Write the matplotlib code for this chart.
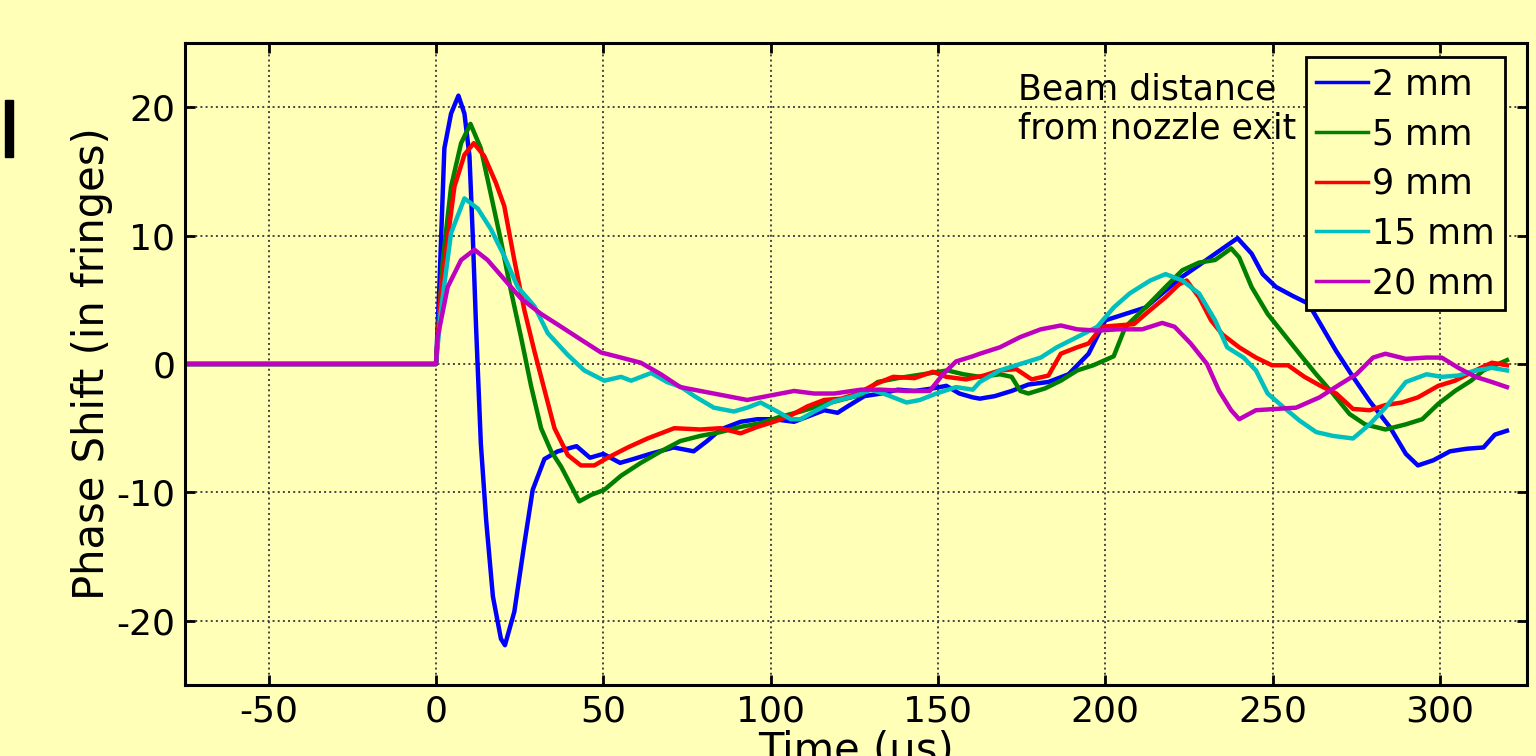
import matplotlib
matplotlib.use("Agg")
import matplotlib.pyplot as plt
from matplotlib.patches import Rectangle

plt.rcParams['font.family'] = ['DejaVu Sans']
plt.rcParams['axes.unicode_minus'] = False

t_2mm = [-75, 0, 1, 2.5, 4.5, 6.7, 8.5, 10, 11, 12, 13.4, 15, 17, 19.4, 20.6, 23.4, 26.4, 28.9, 32.4, 36.4,
         42, 46, 50, 55, 59, 64, 71, 77, 81, 85, 91, 96, 101, 107, 111, 116, 120, 123, 128, 133,
         138, 143, 148.5, 152.5, 156.4, 160.4, 162.5, 167, 172, 177, 183, 189, 195, 200, 206, 212, 217, 223, 228, 234,
         239.5, 243.7, 247, 251, 256, 260.7, 264.3, 269, 274, 279, 285, 289.8, 293.4, 298, 303, 308, 313, 316.4, 320]
ps_2mm = [0, 0, 6, 16.8, 19.5, 20.9, 19.5, 16.2, 9.9, 2.7, -6.2, -12.2, -18.1, -21.4, -21.9, -19.3, -14, -9.8, -7.4, -6.8,
          -6.4, -7.3, -7.0, -7.7, -7.4, -7.0, -6.5, -6.8, -6.0, -5.1, -4.5, -4.3, -4.3, -4.5, -4.1, -3.6, -3.8, -3.3, -2.5, -2.3,
          -2.0, -2.1, -1.9, -1.7, -2.3, -2.6, -2.7, -2.5, -2.1, -1.6, -1.4, -0.8, 0.8, 3.4, 3.9, 4.4, 5.5, 6.8, 7.7, 8.8,
          9.8, 8.6, 7.0, 6.0, 5.3, 4.7, 3.1, 1.0, -1.0, -2.9, -4.9, -7.0, -7.9, -7.5, -6.8, -6.6, -6.5, -5.5, -5.2]

t_5mm = [-75, 0, 2, 4.5, 7.5, 10.3, 13.4, 16.4, 19.4, 22.4, 25.4, 28.4, 31.4, 34.4, 37.4, 40.4, 42.8, 46.3, 50.3, 55.3,
         61.2, 67.2, 73, 79, 85, 91, 97, 103, 109, 115, 121, 127, 132, 138, 145.5, 152.8, 157.6, 162.5, 168.5, 172,
         174.6, 177, 182, 186.7, 191.6, 196.4, 202.5, 206, 212, 218, 223, 228, 232.8, 237.6, 240, 243.7, 248.5, 253.4, 258, 263,
         268, 273, 277.6, 283.7, 289.8, 294.7, 299.5, 304.5, 309.3, 313, 320]
ps_5mm = [0, 0, 8, 13.8, 17.2, 18.7, 16.8, 13.2, 9.6, 5.7, 2.1, -1.7, -5.0, -6.8, -8.0, -9.5, -10.7, -10.2, -9.8, -8.7,
          -7.7, -6.8, -6.0, -5.6, -5.3, -4.9, -4.6, -4.1, -3.7, -3.2, -2.8, -2.4, -1.4, -1.1, -0.8, -0.5, -0.8, -1.0, -0.8, -1.0,
          -2.1, -2.3, -1.9, -1.3, -0.5, -0.1, 0.6, 2.9, 4.4, 6.0, 7.3, 7.9, 8.1, 9.0, 8.3, 6.0, 3.9, 2.3, 0.8, -0.8,
          -2.3, -3.9, -4.7, -5.1, -4.7, -4.3, -3.1, -2.1, -1.3, -0.5, 0.3]

t_9mm = [-75, 0, 1.5, 5.5, 8.5, 11.3, 14.4, 17.9, 20.4, 23.4, 26.4, 29.4, 32.4, 35.4, 39.4, 43.3, 47.3, 51.3, 57.3, 63.2,
         71.2, 79, 85, 91, 96, 101, 106, 111, 116, 121, 126, 131, 136.6, 143, 148.5, 152.5, 158.4, 163.7, 168.5, 173.4,
         178, 183, 186.7, 191.6, 195, 199, 203.7, 208.5, 213.4, 218, 222, 224.3, 228, 231.6, 235, 240, 245, 249.8, 254.6, 259.5,
         264.3, 269, 274, 279, 283.7, 288.6, 293.4, 299.5, 304.5, 310.6, 315.5, 320]
ps_9mm = [0, 0, 5.7, 13.8, 16.3, 17.2, 16.2, 14.1, 12.3, 8.1, 4.2, 1.0, -2.0, -5.0, -7.1, -7.9, -7.9, -7.3, -6.5, -5.8,
          -5.0, -5.1, -5.0, -5.4, -4.9, -4.5, -4.0, -3.3, -2.8, -2.7, -2.3, -1.6, -1.0, -1.1, -0.6, -1.0, -1.2, -0.9, -0.5, -0.4,
          -1.2, -0.9, 0.8, 1.3, 1.6, 2.9, 3.0, 3.1, 4.2, 5.2, 6.2, 6.5, 5.2, 3.4, 2.3, 1.3, 0.5, -0.1, -0.1, -1.0,
          -1.7, -2.3, -3.5, -3.6, -3.2, -3.0, -2.6, -1.7, -1.3, -0.5, 0.1, -0.1]

t_15mm = [-75, 0, 1.5, 4.5, 8.5, 12.5, 16.4, 20.4, 24.4, 29.4, 33.4, 39.4, 44.3, 50.3, 55.3, 58.3, 64.3, 69, 73.3, 77.2,
          83, 89, 93, 97, 102, 106, 109, 113, 119, 125, 130, 134.7, 140.6, 144.6, 149.5, 155.4, 160.4, 162.5, 168.5, 174.6,
          180.7, 185.5, 191.6, 197.6, 202.5, 207.3, 213.4, 218, 223, 228, 232.8, 236.4, 241.3, 245, 248.5, 253.4, 258, 263, 268, 274,
          279, 283.7, 289.8, 296, 300.5, 305.5, 310.6, 315.5, 320]
ps_15mm = [0, 0, 4.2, 10.2, 12.9, 12.1, 10.5, 8.4, 6.0, 4.5, 2.4, 0.7, -0.5, -1.3, -1.0, -1.3, -0.7, -1.4, -1.8, -2.5,
           -3.4, -3.7, -3.4, -3.0, -3.7, -4.3, -4.3, -3.7, -2.9, -2.5, -2.0, -2.4, -3.0, -2.8, -2.3, -1.8, -2.0, -1.4, -0.5, 0.0,
           0.5, 1.3, 2.1, 2.9, 4.4, 5.5, 6.5, 7.0, 6.5, 5.5, 3.4, 1.3, 0.5, -0.5, -2.3, -3.4, -4.4, -5.3, -5.6, -5.8,
           -4.7, -3.4, -1.4, -0.8, -1.0, -0.9, -0.5, -0.3, -0.5]

t_20mm = [-75, 0, 0.5, 3.5, 7.5, 11.5, 15.4, 20.4, 25.4, 31.4, 37.4, 43.3, 49.3, 55.3, 61.2, 67.2, 73, 79, 85, 93,
          99, 107, 113, 119, 127, 133, 140.6, 147.5, 151.5, 155.4, 160.4, 162.5, 168.5, 174.6, 180.7, 186.7, 191.6, 197.6, 203.7, 211,
          217, 220.7, 225.5, 230.4, 234, 237.6, 240, 245, 251, 257, 264, 270, 275, 280, 283.7, 289.8, 296, 300.5, 305.5, 310.6,
          315.5, 320]
ps_20mm = [0, 0, 2.1, 6.0, 8.1, 8.9, 8.1, 6.6, 5.1, 3.9, 2.9, 1.9, 0.9, 0.5, 0.1, -0.8, -1.8, -2.1, -2.4, -2.8,
           -2.5, -2.1, -2.3, -2.3, -2.0, -2.0, -2.1, -2.1, -0.8, 0.2, 0.6, 0.8, 1.3, 2.1, 2.7, 3.0, 2.7, 2.6, 2.7, 2.7,
           3.2, 2.9, 1.6, 0.0, -2.1, -3.6, -4.3, -3.6, -3.5, -3.4, -2.6, -1.6, -0.8, 0.5, 0.8, 0.4, 0.5, 0.5, -0.3, -1.0,
           -1.4, -1.8]

labels = ['2 mm', '5 mm', '9 mm', '15 mm', '20 mm']
colors = ['#0000ff', '#007f00', '#ff0000', '#00bfbf', '#bf00bf']
x_ticks = [-50, 0, 50, 100, 150, 200, 250, 300]
y_ticks = [-20, -10, 0, 10, 20]

bg = '#ffffb8'
fig = plt.figure(figsize=(15.36, 7.56), dpi=100, facecolor=bg)
ax = fig.add_axes([185 / 1536, 1 - 685 / 756, (1527 - 185) / 1536, (685 - 43) / 756])
ax.set_facecolor(bg)

series = [(t_2mm, ps_2mm), (t_5mm, ps_5mm), (t_9mm, ps_9mm), (t_15mm, ps_15mm), (t_20mm, ps_20mm)]
for (t, ps), lab, c in zip(series, labels, colors):
    ax.plot(t, ps, color=c, lw=3.2, label=lab)

ax.set_xlim(-75, 326)
ax.set_ylim(-25, 25)
ax.set_xticks(x_ticks)
ax.set_yticks(y_ticks)
ax.grid(True, ls=':', color='#444444', lw=1.4)
ax.tick_params(direction='in', length=7, width=2, labelsize=26, top=True, right=True, pad=7)
for s in ax.spines.values():
    s.set_linewidth(2.2)

ax.set_xlabel('Time (μs)', fontsize=30)
ax.xaxis.set_label_coords(0.5, -0.07)
ax.set_ylabel('Phase Shift (in fringes)', fontsize=30)
ax.yaxis.set_label_coords(-0.054, 0.5)

leg = ax.legend(loc='upper right', bbox_to_anchor=(0.9836, 0.978), borderaxespad=0,
                fontsize=25, handlelength=1.5, handletextpad=0.1, labelspacing=0.45,
                borderpad=0.3, fancybox=False, framealpha=1, facecolor=bg, edgecolor='black')
leg.get_frame().set_linewidth(2)
for h in leg.get_lines():
    h.set_linewidth(2.5)

ax.text(1018 / 1536, 1 - 109 / 756, 'Beam distance\nfrom nozzle exit', transform=fig.transFigure,
        fontsize=25, va='center', ha='left', linespacing=1.15)

fig.patches.append(Rectangle((5 / 1536, 1 - 157 / 756), 8 / 1536, 57 / 756,
                             transform=fig.transFigure, color='black'))

fig.savefig('out.png', dpi=100, facecolor=bg)
